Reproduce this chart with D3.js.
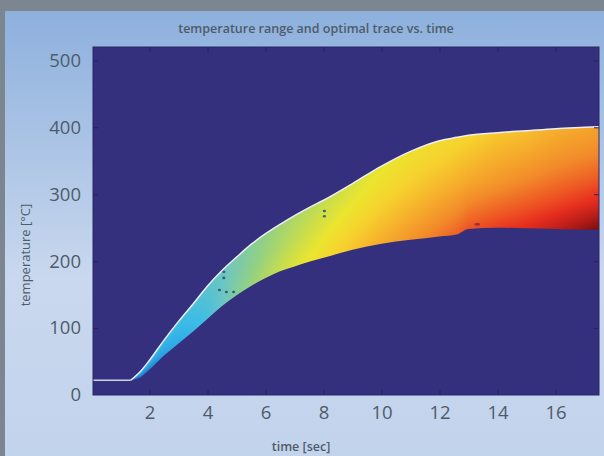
<!DOCTYPE html>
<html>
<head>
<meta charset="utf-8">
<script src="https://cdn.jsdelivr.net/npm/d3@7"></script>
<style>
  body { margin: 0; background: #7b8690; }
  svg { display: block; }
</style>
</head>
<body>
<svg id="chart" width="604" height="456"></svg>
<script>
// band of allowed temperatures (time in s, temperature in °C)
const bandTime  = [1.35, 1.7, 2.0, 2.5, 3.0, 3.5, 4.0, 4.5, 5.0, 5.5, 6.0, 6.5, 7.0, 7.5, 8.0, 9.0, 10.0, 11.0, 12.0, 12.6, 13.0, 14.0, 15.0, 16.0, 17.0, 17.5];
const upperTemp = [22, 36, 52, 82, 110, 136, 163, 186, 206, 225, 241, 255, 268, 280, 291, 316, 342, 364, 380, 385, 388, 392, 395, 398, 400, 401];
const lowerTemp = [22, 27, 38, 59, 77, 95, 114, 133, 149, 163, 175, 185, 192, 199, 205, 217, 226, 232, 237, 240, 248, 250, 249, 248, 247, 247];

// optimal trace: flat start, then it runs along the upper edge
const traceStartTime = [0.05, 1.35];
const traceStartTemp = [22, 22];

// colour level across the band (rows: upper edge -> lower edge), per time column
const levelTime = [1.35, 2, 3, 4, 5, 6, 7, 8, 9, 10, 11, 12, 13, 14, 15, 16, 17.5];
const levelRows = [0, 0.25, 0.5, 0.75, 1];
const levels = [
  [0.14, 0.10, 0.06, 0.03, 0.00],
  [0.16, 0.12, 0.09, 0.06, 0.04],
  [0.19, 0.17, 0.15, 0.13, 0.12],
  [0.24, 0.23, 0.22, 0.21, 0.20],
  [0.30, 0.30, 0.31, 0.32, 0.33],
  [0.36, 0.37, 0.38, 0.40, 0.42],
  [0.41, 0.43, 0.45, 0.48, 0.50],
  [0.45, 0.48, 0.51, 0.54, 0.57],
  [0.49, 0.52, 0.56, 0.60, 0.63],
  [0.52, 0.56, 0.60, 0.64, 0.68],
  [0.55, 0.59, 0.63, 0.68, 0.73],
  [0.57, 0.61, 0.66, 0.72, 0.78],
  [0.59, 0.64, 0.69, 0.76, 0.83],
  [0.62, 0.67, 0.72, 0.79, 0.86],
  [0.64, 0.69, 0.75, 0.82, 0.89],
  [0.67, 0.72, 0.78, 0.85, 0.93],
  [0.70, 0.75, 0.82, 0.90, 1.00]
];

// stray dark specks inside the band
const speckTime = [4.56, 4.56, 4.41, 4.65, 4.9, 8.03, 8.03, 13.3];
const speckTemp = [184, 175, 157, 154, 154, 275, 267, 255];

const xTicks = [2, 4, 6, 8, 10, 12, 14, 16];
const yTicks = [0, 100, 200, 300, 400, 500];

const W = 604, H = 456;
const plot = { left: 93, top: 47, right: 599, bottom: 395 };

const svg = d3.select("#chart");
const defs = svg.append("defs");

const bg = defs.append("linearGradient").attr("id", "panelBg")
  .attr("x1", 0).attr("y1", 0).attr("x2", 0).attr("y2", 1);
bg.append("stop").attr("offset", "0%").attr("stop-color", "#8db0dd");
bg.append("stop").attr("offset", "60%").attr("stop-color", "#c9d8ee");
bg.append("stop").attr("offset", "100%").attr("stop-color", "#c2d3ec");

svg.append("rect").attr("x", 5).attr("y", 11).attr("width", W - 5).attr("height", H - 11)
  .attr("fill", "url(#panelBg)");

const x = d3.scaleLinear().domain([0.05, 17.5]).range([plot.left, plot.right]);
const y = d3.scaleLinear().domain([0, 520]).range([plot.bottom, plot.top]);

const colour = d3.scaleLinear()
  .domain([0, 0.10, 0.18, 0.27, 0.36, 0.45, 0.53, 0.60, 0.67, 0.75, 0.82, 0.88, 0.94, 1])
  .range(["#1c6cc8", "#2ea8e6", "#3cbce6", "#6cc6c2", "#92d084", "#c2dc52", "#ebe52e",
          "#f6d22e", "#f6b02c", "#f28a2a", "#ee5a24", "#e62e1e", "#b81c18", "#741010"])
  .clamp(true);

// plot background
svg.append("rect")
  .attr("x", plot.left).attr("y", plot.top)
  .attr("width", plot.right - plot.left).attr("height", plot.bottom - plot.top)
  .attr("fill", "#34307e");

const band = bandTime.map((t, i) => ({ t: t, hi: upperTemp[i], lo: lowerTemp[i] }));
const area = d3.area().curve(d3.curveMonotoneX)
  .x(d => x(d.t)).y0(d => y(d.lo)).y1(d => y(d.hi));

defs.append("clipPath").attr("id", "bandClip")
  .append("path").attr("d", area(band));

// paint the band colours on a canvas, then put it in as an image
function bandAt(t) {
  let i = d3.bisectRight(bandTime, t) - 1;
  i = Math.max(0, Math.min(bandTime.length - 2, i));
  const k = (t - bandTime[i]) / (bandTime[i + 1] - bandTime[i]);
  return [upperTemp[i] + k * (upperTemp[i + 1] - upperTemp[i]),
          lowerTemp[i] + k * (lowerTemp[i + 1] - lowerTemp[i])];
}
function levelAt(t, f) {
  let j = d3.bisectRight(levelTime, t) - 1;
  j = Math.max(0, Math.min(levelTime.length - 2, j));
  let kt = (t - levelTime[j]) / (levelTime[j + 1] - levelTime[j]);
  kt = Math.max(0, Math.min(1, kt));
  let r = Math.min(3, Math.floor(f * 4));
  const kf = (f - levelRows[r]) / 0.25;
  const a = levels[j][r] + kf * (levels[j][r + 1] - levels[j][r]);
  const b = levels[j + 1][r] + kf * (levels[j + 1][r + 1] - levels[j + 1][r]);
  return a + kt * (b - a);
}

const cw = plot.right - plot.left, ch = plot.bottom - plot.top;
const canvas = document.createElement("canvas");
canvas.width = cw; canvas.height = ch;
const ctx = canvas.getContext("2d");
const img = ctx.createImageData(cw, ch);
for (let px = 0; px < cw; px++) {
  const t = x.invert(plot.left + px + 0.5);
  if (t < bandTime[0] - 0.1 || t > bandTime[bandTime.length - 1] + 0.1) continue;
  const [hi, lo] = bandAt(t);
  const span = Math.max(hi - lo, 1);
  for (let py = 0; py < ch; py++) {
    const T = y.invert(plot.top + py + 0.5);
    let f = (hi - T) / span;
    if (f < -0.3 || f > 1.3) continue;
    f = Math.max(0, Math.min(1, f));
    const c = d3.rgb(colour(levelAt(t, f)));
    const o = (py * cw + px) * 4;
    img.data[o] = c.r; img.data[o + 1] = c.g; img.data[o + 2] = c.b; img.data[o + 3] = 255;
  }
}
ctx.putImageData(img, 0, 0);

svg.append("image")
  .attr("x", plot.left).attr("y", plot.top)
  .attr("width", cw).attr("height", ch)
  .attr("href", canvas.toDataURL())
  .attr("clip-path", "url(#bandClip)");

// specks
svg.append("g").selectAll("ellipse")
  .data(speckTime.map((t, i) => ({ t: t, v: speckTemp[i] })))
  .enter().append("ellipse")
  .attr("cx", d => x(d.t)).attr("cy", d => y(d.v))
  .attr("rx", d => d.t > 12 ? 3 : 1.6).attr("ry", 1.3)
  .attr("fill", d => d.t > 12 ? "#8a2a3a" : "#28506e")
  .attr("opacity", 0.85);

// optimal trace: grey flat start, white along the upper edge
const line = d3.line().curve(d3.curveMonotoneX).x(d => x(d.t)).y(d => y(d.v));
svg.append("path")
  .attr("d", line(traceStartTime.map((t, i) => ({ t: t, v: traceStartTemp[i] }))))
  .attr("fill", "none")
  .attr("stroke", "#cfd0e2")
  .attr("stroke-width", 1.5);
svg.append("path")
  .attr("d", line(band.map(d => ({ t: d.t, v: d.hi }))))
  .attr("fill", "none")
  .attr("stroke", "#eeeef6")
  .attr("stroke-width", 1.5);

// frame and inward ticks
const tickCol = "#262360";
const labelCol = "#4e5c69";
const font = "'Open Sans', sans-serif";

const xAxis = svg.append("g").attr("transform", `translate(0,${plot.bottom})`)
  .call(d3.axisBottom(x).tickValues(xTicks).tickSizeInner(-5).tickSizeOuter(0).tickPadding(11));
const xTop = svg.append("g").attr("transform", `translate(0,${plot.top})`)
  .call(d3.axisTop(x).tickValues(xTicks).tickSizeInner(-5).tickSizeOuter(0).tickFormat(""));
const yAxis = svg.append("g").attr("transform", `translate(${plot.left},0)`)
  .call(d3.axisLeft(y).tickValues(yTicks).tickSizeInner(-5).tickSizeOuter(0).tickPadding(12));
const yRight = svg.append("g").attr("transform", `translate(${plot.right},0)`)
  .call(d3.axisRight(y).tickValues(yTicks.filter(v => v > 0)).tickSizeInner(-5).tickSizeOuter(0).tickFormat(""));

[xAxis, xTop, yAxis, yRight].forEach(g => {
  g.select(".domain").remove();
  g.selectAll(".tick line").attr("stroke", tickCol).attr("stroke-width", 1);
});
yAxis.selectAll(".tick").filter(d => d === 0).select("line").remove();
[xAxis, yAxis].forEach(g => {
  g.selectAll(".tick text")
    .attr("fill", labelCol)
    .style("font-family", font)
    .style("font-size", "18.5px");
});

svg.append("rect")
  .attr("x", plot.left).attr("y", plot.top)
  .attr("width", plot.right - plot.left).attr("height", plot.bottom - plot.top)
  .attr("fill", "none").attr("stroke", "#2a2766").attr("stroke-width", 1);

// titles
svg.append("text")
  .attr("x", 316).attr("y", 33)
  .attr("text-anchor", "middle")
  .attr("fill", labelCol)
  .style("font-family", font).style("font-size", "12.5px").style("font-weight", 600)
  .text("temperature range and optimal trace vs. time");

svg.append("text")
  .attr("x", 301).attr("y", 451)
  .attr("text-anchor", "middle")
  .attr("fill", labelCol)
  .style("font-family", font).style("font-size", "12.5px").style("font-weight", 600)
  .text("time [sec]");

svg.append("text")
  .attr("transform", "translate(30,255) rotate(-90)")
  .attr("text-anchor", "middle")
  .attr("fill", labelCol)
  .style("font-family", font).style("font-size", "13px").style("font-weight", 400)
  .text("temperature [°C]");
</script>
</body>
</html>
